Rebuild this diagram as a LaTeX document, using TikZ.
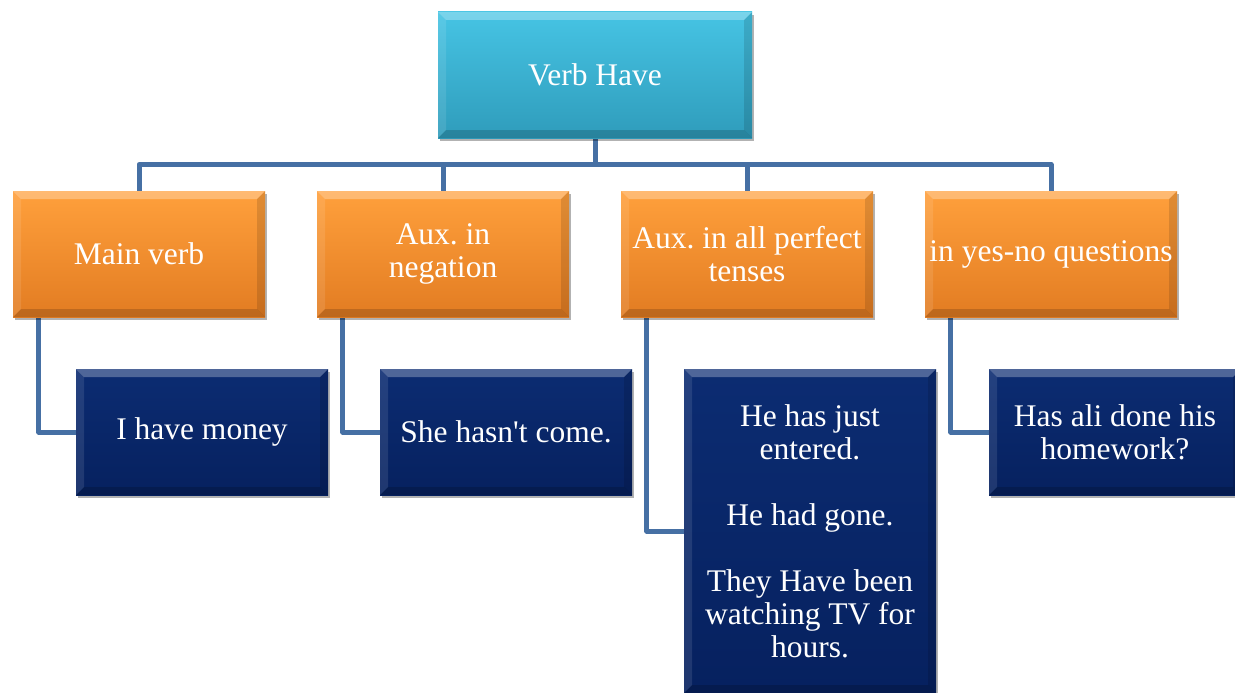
\documentclass[tikz,border=0pt]{standalone}
\usepackage{fontspec}
\setmainfont{Liberation Serif}
\usetikzlibrary{shadows,backgrounds}
\definecolor{rootT}{HTML}{46C4E4}
\definecolor{rootB}{HTML}{2F9CBB}
\definecolor{oraT}{HTML}{FFA03C}
\definecolor{oraB}{HTML}{E27C22}
\definecolor{navT}{HTML}{0C2C72}
\definecolor{navB}{HTML}{06215F}
\definecolor{conn}{HTML}{4670A4}
\tikzset{
  bevel/.style={path picture={
    \coordinate (bNW) at (path picture bounding box.north west);
    \coordinate (bNE) at (path picture bounding box.north east);
    \coordinate (bSW) at (path picture bounding box.south west);
    \coordinate (bSE) at (path picture bounding box.south east);
    \fill[white,opacity=.28] (bNW) -- (bNE) -- ([xshift=-8pt,yshift=-8pt]bNE) -- ([xshift=8pt,yshift=-8pt]bNW) -- cycle;
    \fill[white,opacity=.10] (bNW) -- ([xshift=8pt,yshift=-8pt]bNW) -- ([xshift=8pt,yshift=8pt]bSW) -- (bSW) -- cycle;
    \fill[black,opacity=.12] (bNE) -- ([xshift=-8pt,yshift=-8pt]bNE) -- ([xshift=-8pt,yshift=8pt]bSE) -- (bSE) -- cycle;
    \fill[black,opacity=.16] (bSW) -- ([xshift=8pt,yshift=8pt]bSW) -- ([xshift=-8pt,yshift=8pt]bSE) -- (bSE) -- cycle;
  }},
  box/.style={minimum width=252pt, minimum height=126pt, inner sep=0pt,
    align=center, text=white, font=\fontsize{31.5}{33}\selectfont\frenchspacing,
    drop shadow={shadow xshift=2pt, shadow yshift=-3pt, opacity=.3, fill=black},
    bevel},
  rootbox/.style={box, minimum width=314pt, top color=rootT, bottom color=rootB},
  orabox/.style={box, top color=oraT, bottom color=oraB},
  navbox/.style={box, top color=navT, bottom color=navB},
  link/.style={draw=conn, line width=5pt, line join=round, line cap=butt},
}
\begin{document}
\begin{tikzpicture}[x=1pt,y=-1pt]
\useasboundingbox (0,0) rectangle (1235,693);
\node[rootbox] (root) at (595,75) {Verb Have};
\node[orabox] (o1) at (139,254) {Main verb};
\node[orabox] (o2) at (443,254) {Aux. in\\negation};
\node[orabox] (o3) at (747,254) {Aux. in all perfect\\tenses};
\node[orabox] (o4) at (1051,254) {in yes-no questions};
\node[navbox] (d1) at (202,432) {I have money};
\node[navbox] (d2) at (506,432) {She hasn\textquotesingle t come.};
\node[navbox, minimum height=324pt] (d3) at (810,531) {He has just\\entered.\\[33pt]He had gone.\\[33pt]They Have been\\watching TV for\\hours.};
\node[navbox] (d4) at (1115,432) {Has ali done his\\homework?};
\coordinate (bar) at (595,164.5);
\begin{scope}[on background layer]
\draw[link] (root.south) -- (root.south |- bar);
\draw[link] (o1.north) -- (o1.north |- bar) -- (o4.north |- bar) -- (o4.north);
\draw[link] (o2.north) -- (o2.north |- bar);
\draw[link] (o3.north) -- (o3.north |- bar);
\draw[link] ([xshift=26pt]o1.south west) |- (d1.west);
\draw[link] ([xshift=26pt]o2.south west) |- (d2.west);
\draw[link] ([xshift=26pt]o3.south west) |- (d3.west);
\draw[link] ([xshift=26pt]o4.south west) |- (d4.west);
\end{scope}
\end{tikzpicture}
\end{document}
